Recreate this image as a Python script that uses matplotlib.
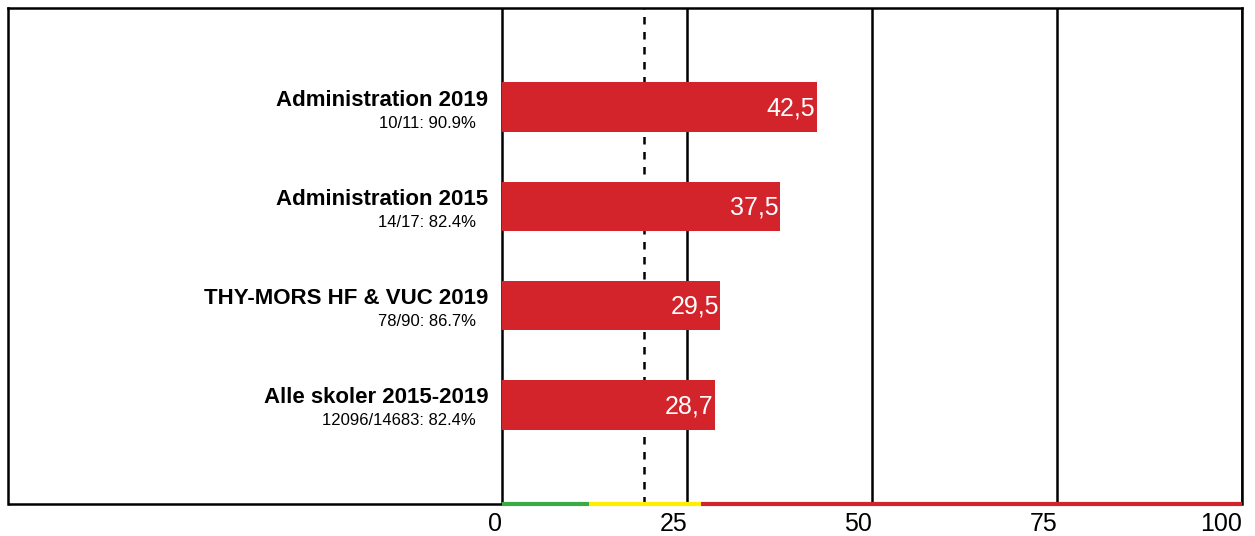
import matplotlib.pyplot as plt

plt.rcParams['font.family'] = ['Liberation Sans', 'DejaVu Sans']

names = ["Administration 2019", "Administration 2015", "THY-MORS HF & VUC 2019", "Alle skoler 2015-2019"]
subs = ["10/11: 90.9%", "14/17: 82.4%", "78/90: 86.7%", "12096/14683: 82.4%"]
values = [42.5, 37.5, 29.5, 28.7]
value_txt = ["42,5", "37,5", "29,5", "28,7"]
ticks = [0, 25, 50, 75, 100]
ref_line = 19.2
bands = [(0, 11.7, "#3aaa45"), (11.7, 26.9, "#ffee00"), (26.9, 100, "#d3242b")]

fig = plt.figure(figsize=(12.55, 5.36), dpi=100)
ax = fig.add_axes([8/1255, 32/536, 1234/1255, 496/536])
xmin = -(503 - 8) / 7.41
ax.set_xlim(xmin, 100)
ax.set_ylim(4, -1)

red = "#d3242b"
ypos = list(range(len(values)))
ax.barh(ypos, values, height=0.5, color=red, zorder=2)

for t in ticks:
    ax.axvline(t, color="black", lw=1.8, zorder=1)
ax.axvline(ref_line, color="black", lw=1.8, ls=(0, (3, 3)), zorder=1)

for y, v, s in zip(ypos, values, value_txt):
    ax.annotate(s, (v - 0.2, y), xytext=(0, -1), textcoords="offset points",
                color="white", fontsize=18, ha="right", va="center", zorder=3)

for y, n, s in zip(ypos, names, subs):
    ax.annotate(n, (-1.9, y), xytext=(0, 5), textcoords="offset points",
                ha="right", va="center", fontsize=16, fontweight="bold")
    ax.annotate(s, (-3.6, y), xytext=(0, -11.5), textcoords="offset points",
                ha="right", va="center", fontsize=12)

for sp in ["top", "left", "right"]:
    ax.spines[sp].set_linewidth(1.8)
ax.spines["bottom"].set_visible(False)
ax.plot([xmin, 0], [4, 4], color="black", lw=1.8, clip_on=False, zorder=4, solid_capstyle="butt")
for a, b, c in bands:
    ax.plot([a, b], [4, 4], color=c, lw=3, clip_on=False, zorder=4, solid_capstyle="butt")

ax.set_xticks(ticks)
ax.set_xticklabels([str(t) for t in ticks], fontsize=18, ha="right")
ax.tick_params(axis="x", length=0, pad=6)
ax.set_yticks([])

fig.savefig("out.png", dpi=100)
